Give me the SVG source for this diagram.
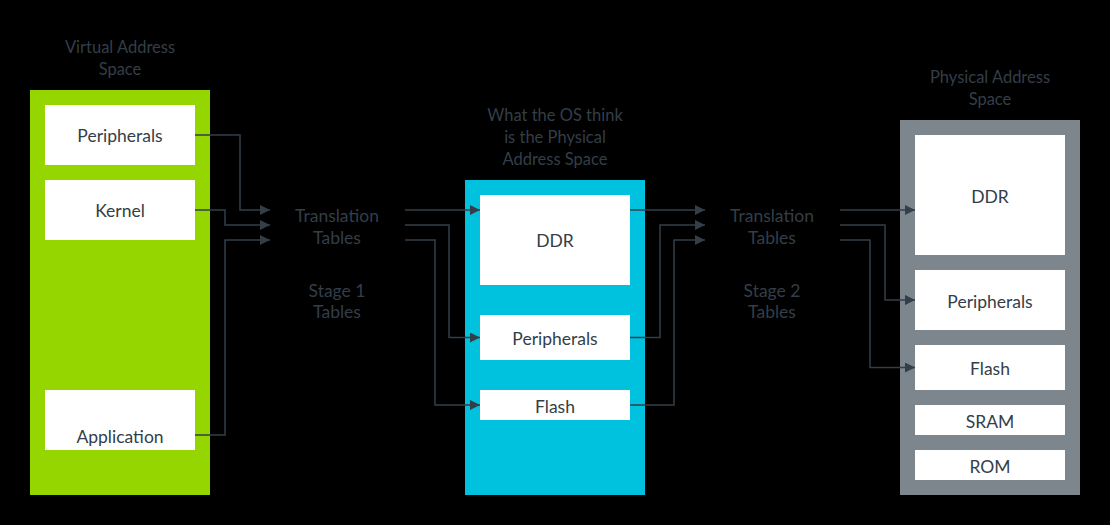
<svg xmlns="http://www.w3.org/2000/svg" width="1110" height="525" viewBox="0 0 1110 525">
<defs>
<marker id="ah" viewBox="0 0 10 10" refX="10" refY="5" markerWidth="10" markerHeight="10" markerUnits="userSpaceOnUse" orient="auto">
<path d="M0,0 L10,5 L0,10 z" fill="#333e48"/>
</marker>
<style>
text{font-family:Lato,"Open Sans","Liberation Sans",sans-serif;text-anchor:middle;fill:#333e48}
.lbl{font-size:17.5px}
.hdr{font-size:16.5px}
.box{fill:#ffffff}
.c{fill:none;stroke:#333e48;stroke-width:1.5;marker-end:url(#ah)}
</style>
</defs>
<rect x="0" y="0" width="1110" height="525" fill="#000000"/>
<g id="virtual-space">
<text class="hdr" x="120" y="53">Virtual Address</text>
<text class="hdr" x="120" y="75">Space</text>
<rect x="30" y="90" width="180" height="405" fill="#95d600"/>
</g>
<g id="v-peripherals"><rect class="box" x="45" y="105" width="150" height="60"/><text class="lbl" x="120" y="142">Peripherals</text></g>
<g id="v-kernel"><rect class="box" x="45" y="180" width="150" height="60"/><text class="lbl" x="120" y="217">Kernel</text></g>
<g id="v-application"><rect class="box" x="45" y="390" width="150" height="60"/><text class="lbl" x="120" y="443">Application</text></g>

<g id="stage1">
<text class="lbl" x="337" y="222">Translation</text>
<text class="lbl" x="337" y="244">Tables</text>
<text class="lbl" x="337" y="297">Stage 1</text>
<text class="lbl" x="337" y="318">Tables</text>
</g>

<g id="ipa-space">
<text class="hdr" x="555" y="121">What the OS think</text>
<text class="hdr" x="555" y="143">is the Physical</text>
<text class="hdr" x="555" y="165">Address Space</text>
<rect x="465" y="180" width="180" height="315" fill="#00c1de"/>
</g>
<g id="i-ddr"><rect class="box" x="480" y="195" width="150" height="90"/><text class="lbl" x="555" y="247">DDR</text></g>
<g id="i-peripherals"><rect class="box" x="480" y="315" width="150" height="45"/><text class="lbl" x="555" y="345">Peripherals</text></g>
<g id="i-flash"><rect class="box" x="480" y="390" width="150" height="30"/><text class="lbl" x="555" y="413">Flash</text></g>

<g id="stage2">
<text class="lbl" x="772" y="222">Translation</text>
<text class="lbl" x="772" y="244">Tables</text>
<text class="lbl" x="772" y="297">Stage 2</text>
<text class="lbl" x="772" y="318">Tables</text>
</g>

<g id="physical-space">
<text class="hdr" x="990" y="83">Physical Address</text>
<text class="hdr" x="990" y="105">Space</text>
<rect x="900" y="120" width="180" height="375" fill="#7d868c"/>
</g>
<g id="p-ddr"><rect class="box" x="915" y="135" width="150" height="120"/><text class="lbl" x="990" y="203">DDR</text></g>
<g id="p-peripherals"><rect class="box" x="915" y="270" width="150" height="60"/><text class="lbl" x="990" y="308">Peripherals</text></g>
<g id="p-flash"><rect class="box" x="915" y="345" width="150" height="45"/><text class="lbl" x="990" y="375">Flash</text></g>
<g id="p-sram"><rect class="box" x="915" y="405" width="150" height="30"/><text class="lbl" x="990" y="428">SRAM</text></g>
<g id="p-rom"><rect class="box" x="915" y="450" width="150" height="30"/><text class="lbl" x="990" y="473">ROM</text></g>

<g id="connectors">
<path class="c" d="M195,135 H240 V210 H270"/>
<path class="c" d="M195,210 H225 V225 H270"/>
<path class="c" d="M195,435 H225 V240 H270"/>
<path class="c" d="M405,210 H480"/>
<path class="c" d="M405,225 H449 V337.5 H480"/>
<path class="c" d="M405,240 H435 V405 H480"/>
<path class="c" d="M630,210 H705"/>
<path class="c" d="M630,337.5 H660 V225 H705"/>
<path class="c" d="M630,405 H674 V240 H705"/>
<path class="c" d="M840,210 H915"/>
<path class="c" d="M840,225 H885 V300 H915"/>
<path class="c" d="M840,240 H870 V367.5 H915"/>
</g>
</svg>
